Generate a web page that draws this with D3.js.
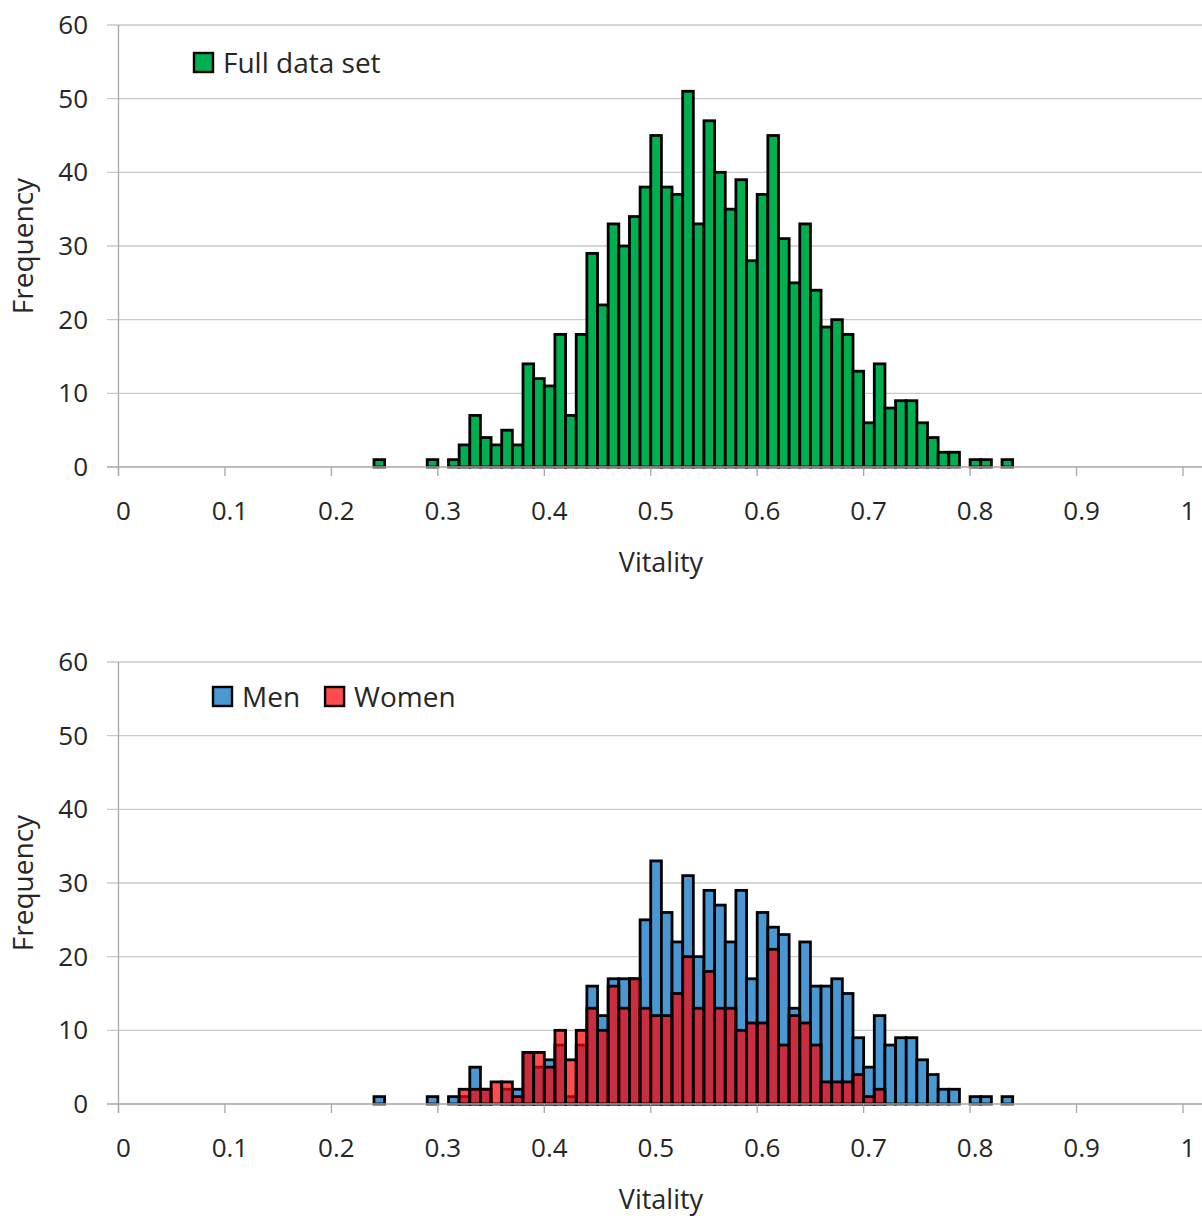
<!DOCTYPE html>
<html>
<head>
<meta charset="utf-8">
<title>Vitality histograms</title>
<script src="https://d3js.org/d3.v7.min.js"></script>
<style>
body { margin: 0; background: white; font-family: "Open Sans", sans-serif; }
text { fill: #262626; }
</style>
</head>
<body>
<script>
// bin lower edges (bin width 0.01)
var bins = [0.24,0.25,0.26,0.27,0.28,0.29,0.30,0.31,0.32,0.33,0.34,0.35,0.36,0.37,0.38,0.39,
  0.40,0.41,0.42,0.43,0.44,0.45,0.46,0.47,0.48,0.49,0.50,0.51,0.52,0.53,0.54,0.55,0.56,0.57,0.58,0.59,
  0.60,0.61,0.62,0.63,0.64,0.65,0.66,0.67,0.68,0.69,0.70,0.71,0.72,0.73,0.74,0.75,0.76,0.77,0.78,0.79,
  0.80,0.81,0.82,0.83];
var full = [1,0,0,0,0,1,0,1,3,7,4,3,5,3,14,12,
  11,18,7,18,29,22,33,30,34,38,45,38,37,51,33,47,40,35,39,28,
  37,45,31,25,33,24,19,20,18,13,6,14,8,9,9,6,4,2,2,0,
  1,1,0,1];
var men = [1,0,0,0,0,1,0,1,1,5,2,0,2,2,7,5,
  6,8,1,8,16,12,17,17,17,25,33,26,22,31,20,29,27,22,29,17,
  26,24,23,13,22,16,16,17,15,9,5,12,8,9,9,6,4,2,2,0,
  1,1,0,1];
var women = [0,0,0,0,0,0,0,0,2,2,2,3,3,1,7,7,
  5,10,6,10,13,10,16,13,17,13,12,12,15,20,13,18,13,13,10,11,
  11,21,8,12,11,8,3,3,3,4,1,2,0,0,0,0,0,0,0,0,
  0,0,0,0];
var xTicks = [0,0.1,0.2,0.3,0.4,0.5,0.6,0.7,0.8,0.9,1];
var yTicks = [0,10,20,30,40,50,60];
var binWidth = 0.01;

var width = 1202, height = 1219;
var svg = d3.select("body").append("svg")
  .attr("width", width).attr("height", height);

var x = d3.scaleLinear().domain([0, 1]).range([118.5, 1183]);

function panel(top, bottom, series, legend, legendX, legendY) {
  var y = d3.scaleLinear().domain([0, 60]).range([bottom, top]);
  var g = svg.append("g");

  // gridlines
  g.selectAll(".grid").data(yTicks.slice(1)).enter().append("line")
    .attr("x1", 107).attr("x2", width)
    .attr("y1", d => y(d)).attr("y2", d => y(d))
    .attr("stroke", "#c9c9c9").attr("stroke-width", 1.3);

  // y axis line + labels
  g.append("line").attr("x1", x(0)).attr("x2", x(0))
    .attr("y1", y(60)).attr("y2", y(0) + 9)
    .attr("stroke", "#a6a6a6").attr("stroke-width", 1.3);
  g.selectAll(".yl").data(yTicks).enter().append("text")
    .attr("x", 88).attr("y", d => y(d)).attr("dy", "0.35em")
    .attr("text-anchor", "end").style("font-size", "26px")
    .text(d => d);

  // bars
  series.forEach(function(s) {
    var data = bins.map((b, i) => ({b: b, v: s.values[i]})).filter(d => d.v > 0);
    g.selectAll(null).data(data).enter().append("rect")
      .attr("x", d => x(d.b))
      .attr("width", d => x(d.b + binWidth) - x(d.b))
      .attr("y", d => y(d.v))
      .attr("height", d => y(0) - y(d.v))
      .attr("fill", s.color).attr("fill-opacity", s.opacity)
      .attr("stroke", "#000").attr("stroke-width", 2.8);
  });

  // x axis
  g.append("line").attr("x1", 107).attr("x2", width)
    .attr("y1", y(0)).attr("y2", y(0))
    .attr("stroke", "#a6a6a6").attr("stroke-width", 1.3);
  g.selectAll(".xt").data(xTicks).enter().append("line")
    .attr("x1", d => x(d)).attr("x2", d => x(d))
    .attr("y1", y(0)).attr("y2", y(0) + 9)
    .attr("stroke", "#a6a6a6").attr("stroke-width", 1.3);
  g.selectAll(".xl").data(xTicks).enter().append("text")
    .attr("x", d => x(d) + 5).attr("y", y(0) + 53)
    .attr("text-anchor", "middle").style("font-size", "26px")
    .text(d => d);

  g.append("text").attr("x", 661).attr("y", y(0) + 105)
    .attr("text-anchor", "middle").style("font-size", "27px")
    .text("Vitality");
  g.append("text")
    .attr("transform", "translate(33," + ((y(0) + y(60)) / 2) + ") rotate(-90)")
    .attr("text-anchor", "middle").style("font-size", "28px")
    .text("Frequency");

  // legend
  var lx = legendX;
  legend.forEach(function(l) {
    g.append("rect").attr("x", lx).attr("y", legendY - 10)
      .attr("width", 19).attr("height", 19)
      .attr("fill", l.color).attr("fill-opacity", l.opacity)
      .attr("stroke", "#000").attr("stroke-width", 2.4);
    var t = g.append("text").attr("x", lx + 29).attr("y", legendY).attr("dy", "0.35em")
      .style("font-size", "28px").text(l.name);
    lx += 29 + t.node().getComputedTextLength() + 25;
  });
}

panel(25, 467,
  [{values: full, color: "#00b050", opacity: 1}],
  [{name: "Full data set", color: "#00b050", opacity: 1}], 194, 63);

panel(662, 1104,
  [{values: men, color: "#4a98d3", opacity: 1},
   {values: women, color: "#ff0000", opacity: 0.7}],
  [{name: "Men", color: "#4a98d3", opacity: 1},
   {name: "Women", color: "#ff0000", opacity: 0.7}], 213, 697);
</script>
</body>
</html>
